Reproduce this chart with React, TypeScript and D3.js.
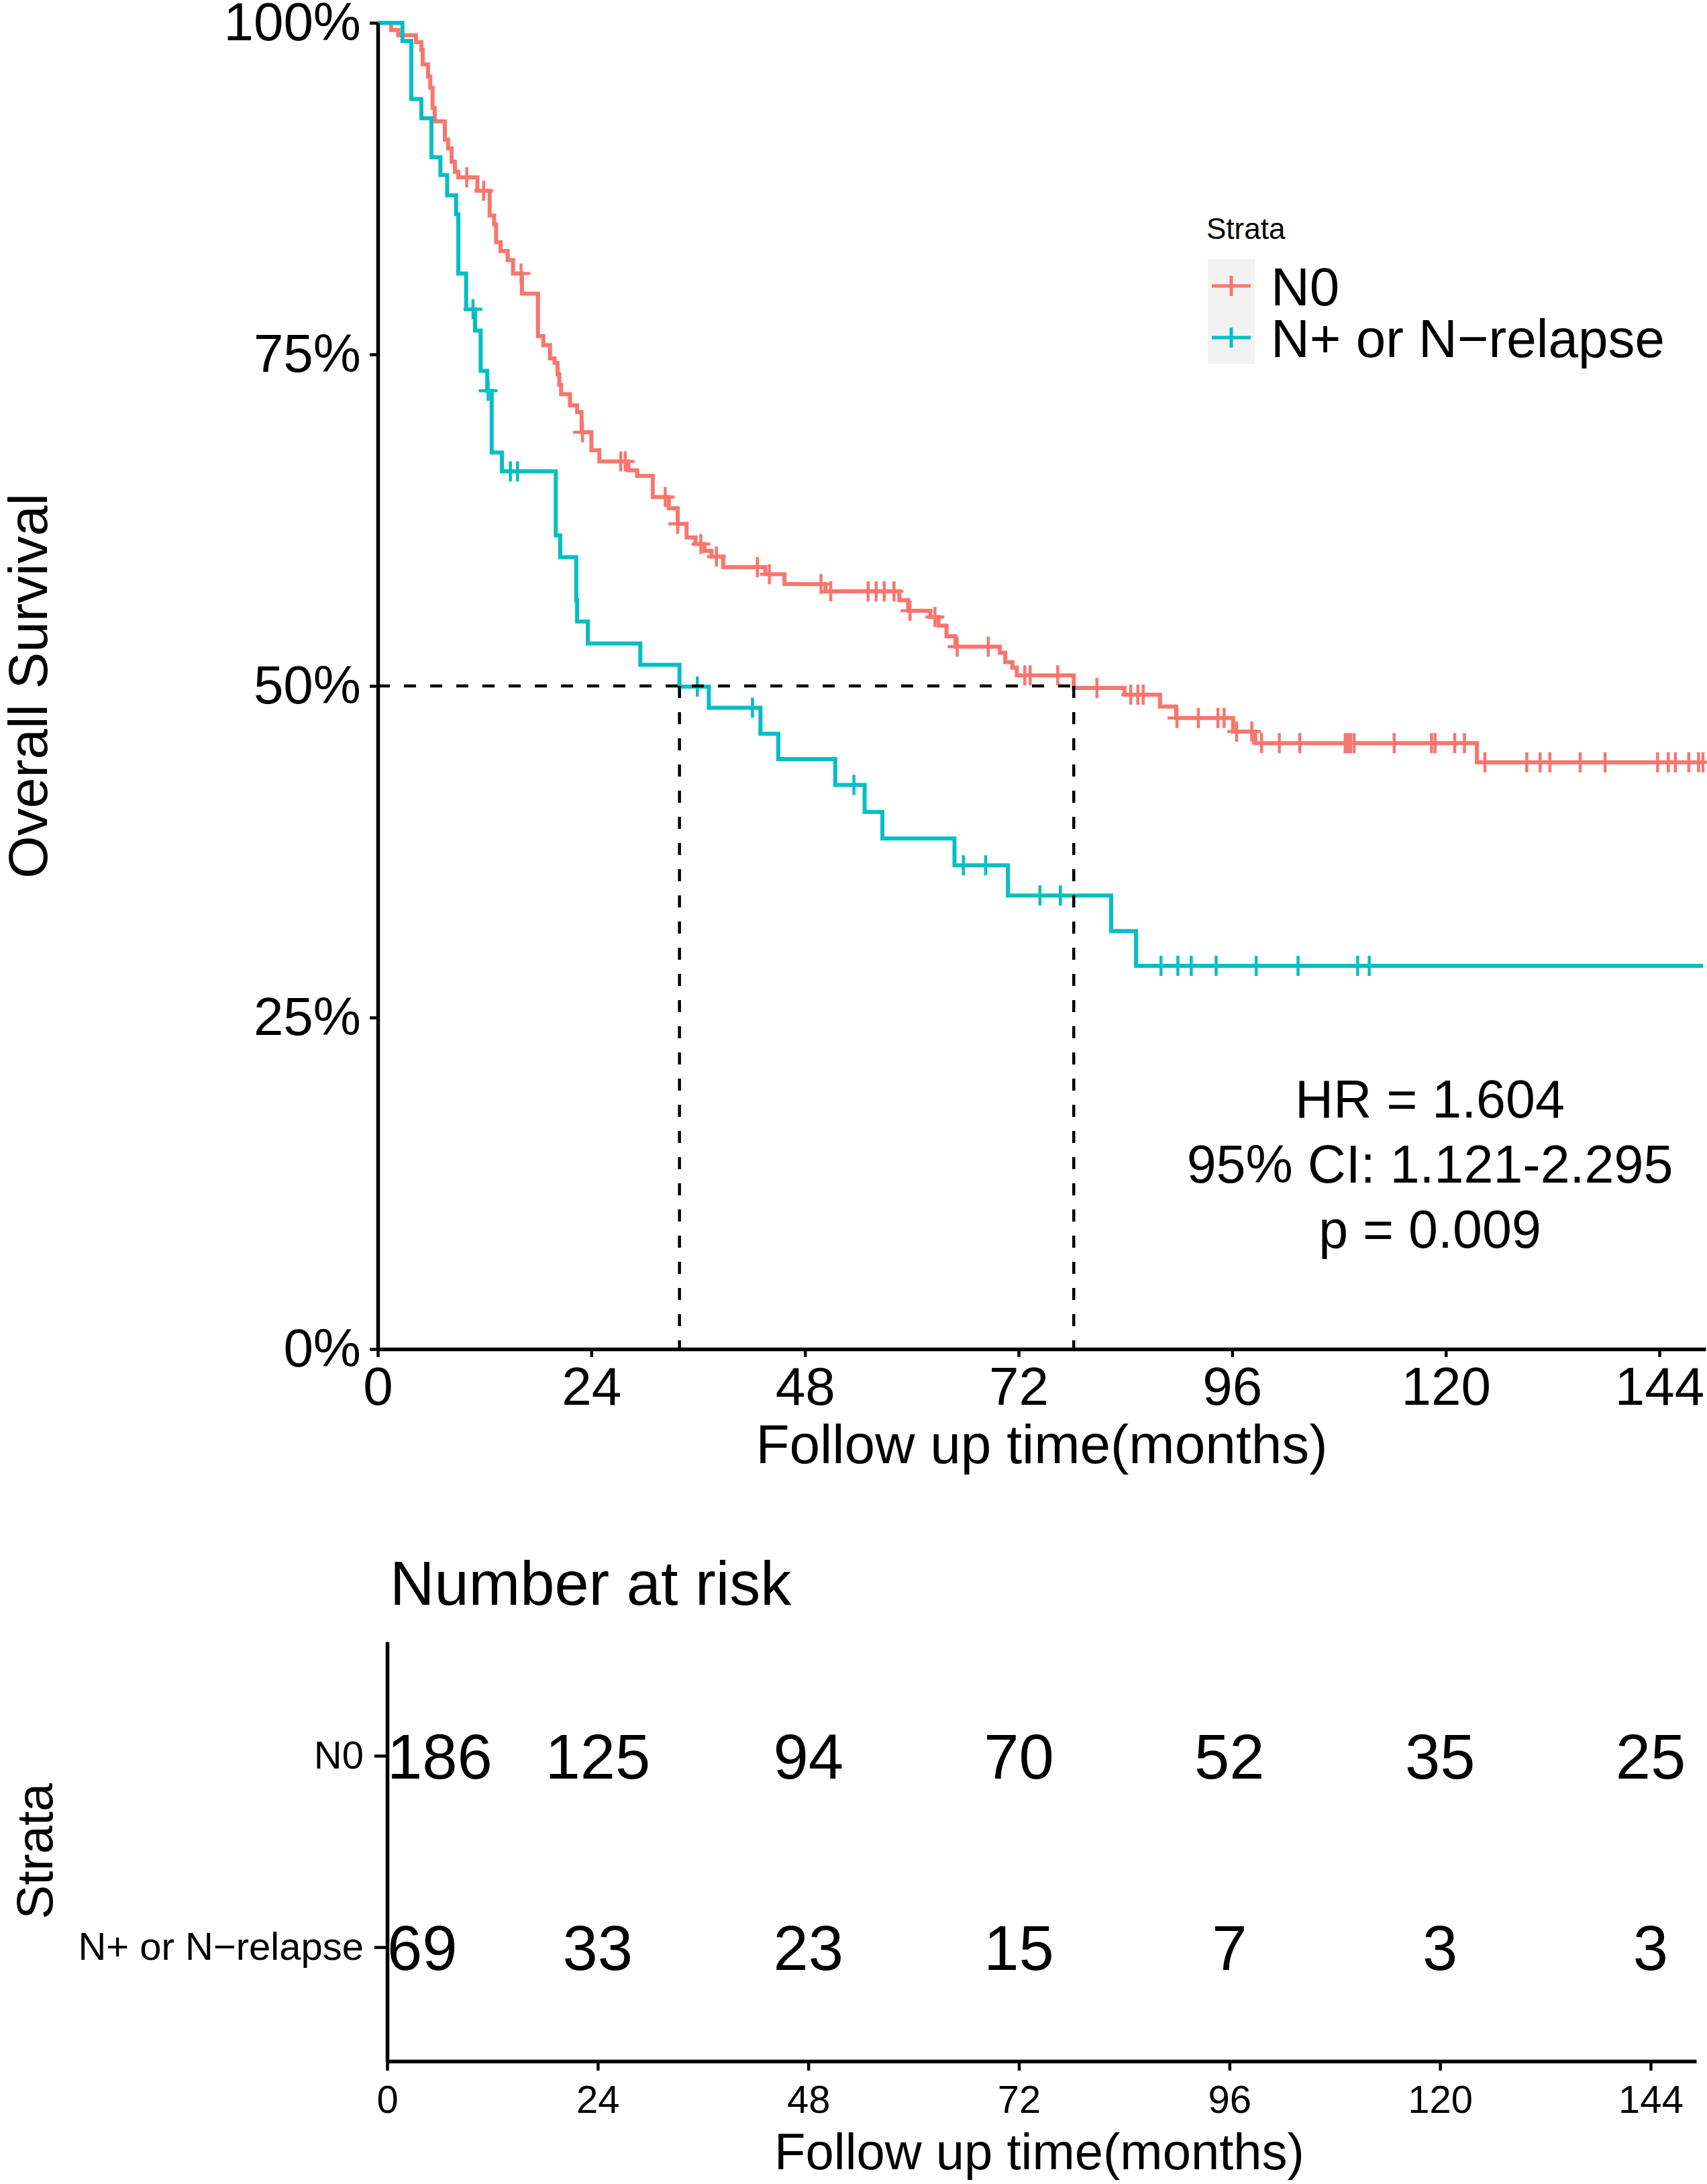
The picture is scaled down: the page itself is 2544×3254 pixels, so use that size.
import { axisBottom, axisLeft, curveStepAfter, format, line, scaleLinear, scalePoint, select } from 'd3'
import { useEffect, useRef } from 'react'

// Kaplan-Meier steps (months, survival after the drop)
const n0Times = [1.5, 2.3, 4.3, 4.9, 5.05, 5.65, 5.9, 6.16, 6.4, 7.54, 7.9, 8.3, 8.67, 9.05, 11.2, 12.57, 13.07, 13.3, 13.8, 14.6, 15.2, 16.2, 18.0, 18.6, 19.35, 19.86, 20.2, 20.4, 20.6, 21.6, 22.4, 22.9, 24.0, 24.9, 28.15, 29.15, 30.9, 32.7, 33.7, 34.7, 35.7, 36.7, 37.5, 38.8, 43.55, 45.7, 50.3, 58.6, 59.6, 62.1, 63.0, 63.9, 64.9, 69.9, 70.5, 71.3, 71.8, 78.2, 83.9, 87.9, 89.7, 96.1, 98.6, 123.5]
const n0Surv = [0.9946, 0.9906, 0.9855, 0.9796, 0.9686, 0.9594, 0.951, 0.9358, 0.9257, 0.912, 0.9054, 0.8953, 0.8877, 0.8835, 0.8734, 0.8548, 0.848, 0.8346, 0.8279, 0.8211, 0.811, 0.7958, 0.7638, 0.757, 0.747, 0.7436, 0.735, 0.727, 0.72, 0.7115, 0.7065, 0.6913, 0.6778, 0.6693, 0.6626, 0.6584, 0.6424, 0.634, 0.6222, 0.612, 0.607, 0.6019, 0.5976, 0.5896, 0.5842, 0.5768, 0.5714, 0.5646, 0.5567, 0.552, 0.5454, 0.5375, 0.5296, 0.525, 0.518, 0.5138, 0.508, 0.4985, 0.4934, 0.4844, 0.4758, 0.4656, 0.4569, 0.4424]
const n0Censor = [10.0, 11.9, 16.1, 23.0, 27.3, 27.8, 32.3, 33.7, 36.3, 38.05, 42.65, 44.0, 49.8, 50.9, 55.1, 56.0, 56.9, 58.0, 59.8, 62.6, 65.1, 68.6, 72.7, 73.3, 76.4, 80.8, 84.6, 85.4, 86.0, 89.8, 92.2, 94.4, 95.1, 96.5, 98.2, 99.3, 101.3, 103.6, 108.7, 109.0, 109.3, 109.7, 114.2, 118.4, 118.8, 121.0, 122.1, 124.4, 129.1, 130.6, 131.7, 135.1, 137.9, 143.8, 145.0, 145.8, 147.3, 148.4, 148.9]

const npTimes = [2.77, 3.77, 4.9, 6.03, 7.04, 7.8, 8.8, 9.05, 9.93, 10.93, 11.56, 12.3, 12.8, 13.95, 20.0, 20.5, 22.3, 22.4, 23.6, 29.5, 33.9, 37.2, 43.0, 45.0, 51.4, 54.7, 56.7, 64.8, 70.8, 82.4, 85.2]
const npSurv = [0.9863, 0.9425, 0.928, 0.8987, 0.8852, 0.87, 0.8557, 0.811, 0.784, 0.768, 0.7376, 0.7225, 0.676, 0.6618, 0.6135, 0.597, 0.5645, 0.5486, 0.532, 0.516, 0.4995, 0.4836, 0.464, 0.4449, 0.4253, 0.405, 0.385, 0.3647, 0.342, 0.3151, 0.289]
const npCensor = [10.7, 12.4, 14.9, 15.7, 35.9, 42.1, 53.5, 65.8, 68.3, 74.4, 76.7, 88.0, 89.9, 91.4, 94.2, 98.7, 103.4, 110.1, 111.4]

const lastTime = 148.9
const strata = ['N0', 'N+ or N\u2212relapse']
const colors = ['#F8766D', '#00BFC4']
const yTicks = [0, 0.25, 0.5, 0.75, 1]
const xTicks = [0, 24, 48, 72, 96, 120, 144]
const riskN0 = [186, 125, 94, 70, 52, 35, 25]
const riskNp = [69, 33, 23, 15, 7, 3, 3]
const statLines = ['HR = 1.604', '95% CI: 1.121-2.295', 'p = 0.009']

const FONT = '"Liberation Sans", Arial, Helvetica, sans-serif'
const W = 2544
const H = 3254

const survAt = (times: number[], surv: number[], t: number) => {
  let s = 1
  times.forEach((tt, i) => { if (tt <= t) s = surv[i] })
  return s
}

const medianOf = (times: number[], surv: number[]) => times[surv.findIndex(s => s <= 0.5)]

const groups = [
  { name: strata[0], times: n0Times, surv: n0Surv, censor: n0Censor, risk: riskN0 },
  { name: strata[1], times: npTimes, surv: npSurv, censor: npCensor, risk: riskNp },
]

export default function App() {
  const xAxisRef = useRef<SVGGElement | null>(null)
  const yAxisRef = useRef<SVGGElement | null>(null)
  const rxAxisRef = useRef<SVGGElement | null>(null)
  const ryAxisRef = useRef<SVGGElement | null>(null)

  const x = scaleLinear().domain([0, 149.2]).range([563, 2542])
  const y = scaleLinear().domain([0, 1]).range([2010, 34])
  const xr = scaleLinear().domain([0, 149.2]).range([577, 2528])
  const yr = scalePoint<string>().domain(strata).range([2446, 3071]).padding(0.596)

  useEffect(() => {
    const style = (g: any, fs: number) => {
      g.attr('font-size', fs).attr('font-family', FONT)
      g.select('.domain').attr('stroke', '#000').attr('stroke-width', 5.5)
      g.selectAll('.tick line').attr('stroke', '#000').attr('stroke-width', 4.5)
      g.selectAll('.tick text').attr('fill', '#000')
    }
    if (yAxisRef.current) {
      const g = select(yAxisRef.current)
      g.call(axisLeft(y).tickValues(yTicks).tickFormat(format('.0%')).tickSize(12).tickSizeOuter(0).tickPadding(13) as any)
      style(g, 80)
    }
    if (xAxisRef.current) {
      const g = select(xAxisRef.current)
      g.call(axisBottom(x).tickValues(xTicks).tickFormat(format('d')).tickSize(12).tickSizeOuter(0).tickPadding(14) as any)
      style(g, 80)
    }
    if (rxAxisRef.current) {
      const g = select(rxAxisRef.current)
      g.call(axisBottom(xr).tickValues(xTicks).tickFormat(format('d')).tickSize(14).tickSizeOuter(0).tickPadding(22) as any)
      style(g, 58)
    }
    if (ryAxisRef.current) {
      const g = select(ryAxisRef.current)
      g.call(axisLeft(yr).tickSize(19).tickSizeOuter(0).tickPadding(16) as any)
      style(g, 58)
    }
  }, [])

  const stepLine = line<[number, number]>()
    .x(d => x(d[0]))
    .y(d => y(d[1]))
    .curve(curveStepAfter)

  const medians = groups.map(g => medianOf(g.times, g.surv))
  const maxMedian = Math.max(...medians)

  return (
    <svg
      width={W}
      height={H}
      viewBox={`0 0 ${W} ${H}`}
      style={{ position: 'absolute', left: 0, top: 0, background: '#fff', display: 'block' }}
      fontFamily={FONT}
    >
      <rect width={W} height={H} fill='#fff' />

      {/* survival curves */}
      {groups.map((g, gi) => {
        const pts: [number, number][] = [[0, 1], ...g.times.map((t, i) => [t, g.surv[i]] as [number, number]), [lastTime, g.surv[g.surv.length - 1]]]
        return (
          <g key={g.name}>
            <path d={stepLine(pts) ?? ''} fill='none' stroke={colors[gi]} strokeWidth={6} />
            {g.censor.map((c, i) => {
              const cx = x(c)
              const cy = y(survAt(g.times, g.surv, c))
              return (
                <path
                  key={i}
                  d={`M${cx - 14},${cy}H${cx + 14}M${cx},${cy - 15}V${cy + 15}`}
                  stroke={colors[gi]}
                  strokeWidth={4.5}
                />
              )
            })}
          </g>
        )
      })}

      {/* median lines */}
      <g stroke='#000' strokeWidth={4.5} strokeDasharray='18 21' fill='none'>
        <line x1={x(0)} x2={x(maxMedian)} y1={y(0.5)} y2={y(0.5)} />
        {medians.map((m, i) => (
          <line key={i} x1={x(m)} x2={x(m)} y1={y(0.5)} y2={y(0)} />
        ))}
      </g>

      <g ref={yAxisRef} transform={`translate(${x(0)},0)`} />
      <g ref={xAxisRef} transform={`translate(0,${y(0)})`} />

      <text transform={`translate(70,${y(0.5)}) rotate(-90)`} textAnchor='middle' fontSize={82}>Overall Survival</text>
      <text x={(x(0) + 2542) / 2} y={2180} textAnchor='middle' fontSize={82}>Follow up time(months)</text>

      {/* legend */}
      <text x={1798} y={356} fontSize={44}>Strata</text>
      <rect x={1800} y={386} width={70} height={156} fill='#F2F2F2' />
      {groups.map((g, gi) => {
        const ly = 426 + gi * 77
        return (
          <g key={g.name}>
            <path d={`M1806,${ly}H1864M1835,${ly - 15}V${ly + 15}`} stroke={colors[gi]} strokeWidth={5} />
            <text x={1894} y={ly} dy='0.36em' fontSize={80}>{g.name}</text>
          </g>
        )
      })}

      {/* HR annotation */}
      {statLines.map((s, i) => (
        <text key={i} x={2131} y={1665 + i * 97} textAnchor='middle' fontSize={79}>{s}</text>
      ))}

      {/* risk table */}
      <text x={581} y={2391} fontSize={92}>Number at risk</text>
      {groups.map(g => (
        <g key={g.name}>
          {g.risk.map((n, i) => (
            <text
              key={i}
              x={xr(xTicks[i])}
              y={yr(g.name) ?? 0}
              dy='0.36em'
              textAnchor={i === 0 ? 'start' : 'middle'}
              fontSize={94}
            >
              {n}
            </text>
          ))}
        </g>
      ))}
      <g ref={ryAxisRef} transform={`translate(${xr(0)},0)`} />
      <g ref={rxAxisRef} transform='translate(0,3071)' />
      <text transform='translate(78,2758) rotate(-90)' textAnchor='middle' fontSize={76}>Strata</text>
      <text x={1549} y={3232} textAnchor='middle' fontSize={76}>Follow up time(months)</text>
    </svg>
  )
}
